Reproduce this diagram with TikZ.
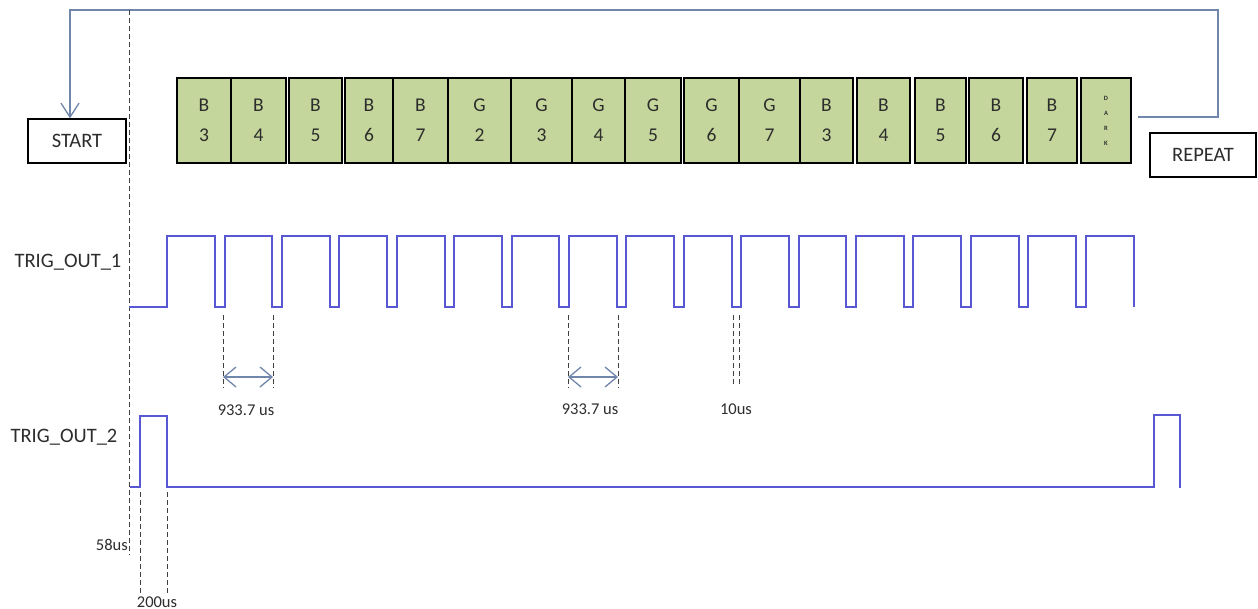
\documentclass[tikz,border=0pt]{standalone}
\usepackage{fontspec}
\setmainfont{Carlito}
\usetikzlibrary{arrows.meta}
\definecolor{boxfill}{RGB}{196,214,155}
\definecolor{wave}{RGB}{88,88,212}
\definecolor{loopc}{RGB}{112,134,170}
\definecolor{txt}{RGB}{45,45,45}
\tikzset{
  slot/.style={draw=black, line width=1.6pt, fill=boxfill, inner sep=0pt,
    minimum height=85pt, align=center, text=txt,
    font=\fontsize{19.5}{30}\selectfont},
  lbl/.style={text=txt, font=\fontsize{20.5}{24}\selectfont, inner sep=0pt},
  small/.style={text=txt, font=\fontsize{16.5}{18}\selectfont, inner sep=0pt},
  framebox/.style={draw=black, line width=1.3pt, inner sep=0pt, text=txt,
    font=\fontsize{20.5}{24}\selectfont},
  dim/.style={draw=black!75, line width=1pt, dash pattern=on 5pt off 3pt},
  sig/.style={draw=wave, line width=2pt, line join=miter},
  loopline/.style={draw=loopc, line width=1.3pt},
  measure/.style={draw=loopc, line width=1.3pt,
    {Straight Barb[length=12pt,width=20pt]}-{Straight Barb[length=12pt,width=20pt]}}
}
\begin{document}
\begin{tikzpicture}[x=1pt,y=-1pt]
\useasboundingbox[fill=white] (0,0) rectangle (1258,609);

% frame boxes
\node[framebox, minimum width=98pt, minimum height=44pt] (start) at (77,141) {START};
\node[framebox, minimum width=106pt, minimum height=44pt] (repeat) at (1203,155) {REPEAT};

% sequence slots
\foreach \name/\xa/\xb/\t in {
  s1/177/231/{B\\3}, s2/231/286/{B\\4}, s3/289/342/{B\\5}, s4/345/393/{B\\6},
  s5/393/448/{B\\7}, s6/448/511/{G\\2}, s7/511/572/{G\\3}, s8/572/625/{G\\4},
  s9/625/681/{G\\5}, s10/684/739/{G\\6}, s11/739/800/{G\\7}, s12/800/853/{B\\3},
  s13/857/910/{B\\4}, s14/915/966/{B\\5}, s15/969/1023/{B\\6}, s16/1027/1077/{B\\7}}
{
  \node[slot, minimum width={(\xb-\xa)*1pt}] (\name) at ({(\xa+\xb)/2},120.5) {\t};
}
\node[slot, minimum width=50pt, font=\fontsize{6.5}{15}\selectfont\bfseries] (dark) at (1106,120.5) {D\\A\\R\\K};

% loop back connector
\coordinate (loopstart) at (1138,117);
\coordinate (loopcorner) at (1218,10);
\draw[loopline, -{Straight Barb[length=14pt,width=18pt]}]
  (loopstart) -- (loopstart -| loopcorner) -- (loopcorner) -- (70,10) -- ([xshift=-7pt]start.north);

% main dashed reference line
\coordinate (t0top) at (129,10);
\coordinate (t0bot) at (129,555);
\draw[dim] (t0top) -- (t0bot);

% signal labels
\node[lbl] (l1) at (68,262) {TRIG\_OUT\_1};
\node[lbl] (l2) at (64,437) {TRIG\_OUT\_2};

% TRIG_OUT_1 waveform
\draw[sig] (129,307) -- (167,307) -- (167,236)
  \foreach \k in {0,...,15} {
    -- ({215+57.4*\k},236) -- ({215+57.4*\k},307) -- ({224.5+57.4*\k},307) -- ({224.5+57.4*\k},236)
  } -- (1134,236) -- (1134,307);

% TRIG_OUT_2 waveform
\draw[sig] (130,487) -- (140,487) -- (140,416) -- (167,416) -- (167,487)
  -- (1154,487) -- (1154,415) -- (1180,415) -- (1180,488);

% measurements on TRIG_OUT_1
\coordinate (m1a) at (223,315); \coordinate (m1b) at (273,315);
\coordinate (m2a) at (568,315); \coordinate (m2b) at (618,315);
\coordinate (m3a) at (733,315); \coordinate (m3b) at (739,315);
\draw[dim] (m1a) -- ++(0,73);
\draw[dim] (m1b) -- ++(0,73);
\draw[dim] (m2a) -- ++(0,73);
\draw[dim] (m2b) -- ++(0,73);
\draw[dim] (m3a) -- ++(0,70);
\draw[dim] (m3b) -- ++(0,70);
\draw[measure] ([yshift=-62pt]m1a) -- ([yshift=-62pt]m1b);
\draw[measure] ([yshift=-62pt]m2a) -- ([yshift=-62pt]m2b);
\node[small] (d1) at (246,410) {933.7 us};
\node[small] (d2) at (590,409) {933.7 us};
\node[small] (d3) at (736,409) {10us};

% measurements on TRIG_OUT_2
\coordinate (p1) at (140,492); \coordinate (p2) at (167,492);
\draw[dim] (p1) -- ++(0,101);
\draw[dim] (p2) -- ++(0,101);
\node[small, anchor=east] (d4) at (128,545) {58us};
\node[small] (d5) at (157,602) {200us};
\end{tikzpicture}
\end{document}
